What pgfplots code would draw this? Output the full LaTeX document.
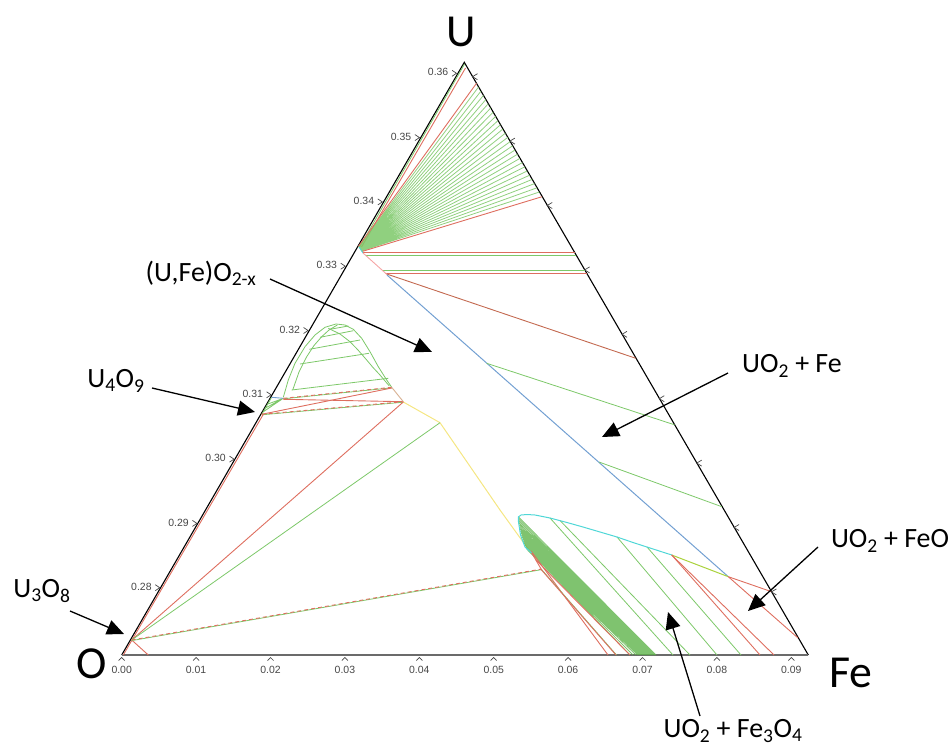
\documentclass[border=0pt]{standalone}
\usepackage{pgfplots}
\pgfplotsset{compat=1.18}
\usepackage{fontspec}
\setmainfont{Carlito}
\newfontfamily\tickfont{Liberation Sans}
\usetikzlibrary{arrows.meta}

\definecolor{cred}{RGB}{222,110,95}
\definecolor{cgreen}{RGB}{125,200,105}
\definecolor{cdgreen}{RGB}{95,180,75}
\definecolor{cblue}{RGB}{115,160,210}
\definecolor{ccyan}{RGB}{80,215,215}
\definecolor{cyellow}{RGB}{245,230,130}
\definecolor{cyg}{RGB}{170,210,60}
\definecolor{cbrown}{RGB}{195,105,80}
\definecolor{cpink}{RGB}{245,165,165}
\definecolor{ctan}{RGB}{215,175,145}
\definecolor{ctick}{RGB}{70,70,70}

\tikzset{
  rl/.style={color=cred, line width=0.9bp},
  gl/.style={color=cgreen, line width=0.8bp},
  rd/.style={color=cred, line width=0.9bp, dash pattern=on 4bp off 3bp},
  arr/.style={black, line width=1.3bp, -{Triangle[length=17bp,width=15bp]}},
  lab/.style={font=\fontsize{28}{32}\selectfont, inner sep=0pt},
  big/.style={font=\fontsize{46}{50}\selectfont, inner sep=0pt},
  tl/.style={font=\tickfont\fontsize{10.5}{12}\selectfont, text=ctick, inner sep=0pt},
}

\begin{document}
\begin{tikzpicture}
\begin{axis}[
  width=951bp, height=749bp, scale only axis,
  xmin=0, xmax=951, ymin=0, ymax=749, y dir=reverse,
  hide axis, clip=false, unbounded coords=jump,
]
% frame for the bounding box
\addplot[draw=none] coordinates {(0,0) (951,749)};

% triangle
\addplot[black, line width=1.1bp] coordinates {(121.7,655) (464.3,62.3) (808.3,655)};
\addplot[color=ctick!80, line width=2.4bp] coordinates {(121.7,655) (808.3,655)};

% ticks
\addplot[ctick, line width=0.7bp] coordinates {
 (118.7,660.5) (121.7,657.5) (124.7,660.5) (nan,nan)
 (193.1,660.5) (196.1,657.5) (199.1,660.5) (nan,nan)
 (267.5,660.5) (270.5,657.5) (273.5,660.5) (nan,nan)
 (341.9,660.5) (344.9,657.5) (347.9,660.5) (nan,nan)
 (416.3,660.5) (419.3,657.5) (422.3,660.5) (nan,nan)
 (490.7,660.5) (493.7,657.5) (496.7,660.5) (nan,nan)
 (565.1,660.5) (568.1,657.5) (571.1,660.5) (nan,nan)
 (639.5,660.5) (642.5,657.5) (645.5,660.5) (nan,nan)
 (713.9,660.5) (716.9,657.5) (719.9,660.5) (nan,nan)
 (788.3,660.5) (791.3,657.5) (794.3,660.5) (nan,nan)
 (155.3,584.7) (159.8,587.7) (155.3,590.7) (nan,nan)
 (192.4,520.4) (196.9,523.4) (192.4,526.4) (nan,nan)
 (229.5,456.1) (234.0,459.1) (229.5,462.1) (nan,nan)
 (266.6,391.8) (271.1,394.8) (266.6,397.8) (nan,nan)
 (303.6,327.5) (308.1,330.5) (303.6,333.5) (nan,nan)
 (340.7,263.2) (345.2,266.2) (340.7,269.2) (nan,nan)
 (377.8,198.9) (382.3,201.9) (377.8,204.9) (nan,nan)
 (414.9,134.6) (419.4,137.6) (414.9,140.6) (nan,nan)
 (452.0,70.3) (456.5,73.3) (452.0,76.3) (nan,nan)
 (477.5,73.7) (472.5,76.7) (477.5,79.7) (nan,nan)
 (514.9,138.1) (509.9,141.1) (514.9,144.1) (nan,nan)
 (552.2,202.5) (547.2,205.5) (552.2,208.5) (nan,nan)
 (589.6,266.9) (584.6,269.9) (589.6,272.9) (nan,nan)
 (627.0,331.3) (622.0,334.3) (627.0,337.3) (nan,nan)
 (664.3,395.7) (659.3,398.7) (664.3,401.7) (nan,nan)
 (701.7,460.1) (696.7,463.1) (701.7,466.1) (nan,nan)
 (739.0,524.5) (734.0,527.5) (739.0,530.5) (nan,nan)
 (776.4,588.9) (771.4,591.9) (776.4,594.9)
};

% tick labels
\foreach \xx/\lbl in {121.7/0.00,196.1/0.01,270.5/0.02,344.9/0.03,419.3/0.04,493.7/0.05,568.1/0.06,642.5/0.07,716.9/0.08,791.3/0.09}{
  \edef\temp{\noexpand\node[tl] at (axis cs:\xx,670) {\lbl};}\temp
}
\foreach \xx/\yy/\lbl in {151.8/586.7/0.28,188.9/522.4/0.29,226.0/458.1/0.30,263.1/393.8/0.31,300.1/329.5/0.32,337.2/265.2/0.33,374.3/200.9/0.34,411.4/136.6/0.35,448.5/72.3/0.36}{
  \edef\temp{\noexpand\node[tl, anchor=east] at (axis cs:\xx,\yy) {\lbl};}\temp
}

% --- upper fan (U-rich corner) ---
\addplot[gl] coordinates {(359.7,247) (464.6,64)};
\addplot[rl] coordinates {(361.5,247) (465.5,68)};
\addplot[gl, opacity=0.85] coordinates {
 (358.8,246.6) (478.5,87.0) (nan,nan)
 (358.9,246.8) (480.9,91.2) (nan,nan)
 (359.0,246.9) (483.4,95.4) (nan,nan)
 (359.1,247.1) (485.8,99.6) (nan,nan)
 (359.2,247.3) (488.2,103.8) (nan,nan)
 (359.4,247.5) (490.7,108.0) (nan,nan)
 (359.5,247.7) (493.1,112.2) (nan,nan)
 (359.6,247.8) (495.6,116.4) (nan,nan)
 (359.7,248.0) (498.0,120.6) (nan,nan)
 (359.8,248.2) (500.4,124.8) (nan,nan)
 (359.9,248.4) (502.9,129.0) (nan,nan)
 (360.0,248.5) (505.3,133.2) (nan,nan)
 (360.1,248.7) (507.7,137.4) (nan,nan)
 (360.3,248.9) (510.2,141.6) (nan,nan)
 (360.4,249.1) (512.6,145.8) (nan,nan)
 (360.5,249.2) (515.0,150.0) (nan,nan)
 (360.6,249.4) (517.5,154.2) (nan,nan)
 (360.7,249.6) (519.9,158.4) (nan,nan)
 (360.8,249.8) (522.4,162.6) (nan,nan)
 (360.9,249.9) (524.8,166.8) (nan,nan)
 (361.0,250.1) (527.2,171.0) (nan,nan)
 (361.2,250.3) (529.7,175.2) (nan,nan)
 (361.3,250.5) (532.1,179.4) (nan,nan)
 (361.4,250.6) (534.5,183.6) (nan,nan)
 (361.5,250.8) (537.0,187.8) (nan,nan)
 (361.6,251.0) (539.4,192.0)
};
\addplot[rl] coordinates {(358.5,246.3) (476.5,83.3)};
\addplot[rl] coordinates {(362,251.5) (542,196.7)};
\addplot[ccyan, line width=0.9bp] coordinates {(359,247) (363,253)};

% horizontal tie lines
\addplot[gl] coordinates {(366,255) (576.1,255)};
\addplot[rl] coordinates {(363,252.5) (574.7,252.5)};
\addplot[gl] coordinates {(383.3,270.6) (585,270.6)};
\addplot[rl] coordinates {(385,273.5) (586.7,273.5)};
\addplot[cpink, line width=0.9bp] coordinates {(363,253) (387,274.5)};

% UO2 + Fe region
\addplot[cbrown, line width=0.9bp] coordinates {(386.7,274) (635.8,358.3)};
\addplot[cblue, line width=1bp] coordinates {(387,275) (728.3,576.7)};
\addplot[gl] coordinates {(486.7,363.3) (674.5,424.8)};
\addplot[gl] coordinates {(599,462) (721.8,506.7)};

% --- U4O9 dome ---
\addplot[gl] coordinates {(283.3,397.3) (288.3,380) (295,363.3) (305,346.7) (315,335) (325,327.3) (336,324) (345,325) (353.3,329.3) (361.7,338.3) (370,351.7) (378.3,366.7) (386.7,380) (391.7,387.3)};
\addplot[gl] coordinates {(292.7,390) (299,372) (306.7,356.7) (314,345.5) (321.7,336.7) (329,330) (337.3,325)};
\addplot[gl] coordinates {(328.3,328.3) (340,334) (350,341.7) (358,350) (366.7,360) (373,367.5) (380,375) (389.3,386)};
\addplot[gl] coordinates {
 (291.7,390) (388.3,378.3) (nan,nan)
 (300,364) (369,353.3) (nan,nan)
 (309.3,349.3) (360,340) (nan,nan)
 (320,337.3) (353.3,330.7) (nan,nan)
 (330,329.3) (348.3,326) (nan,nan)
 (263,412) (283.3,398.3) (nan,nan)
 (265.5,408) (283.3,398.3) (nan,nan)
 (268,404) (283.3,398.3) (nan,nan)
 (262,414) (271.5,397.5)
};
\addplot[cblue, line width=0.9bp] coordinates {(271.7,397.3) (283.3,398.3)};
\addplot[gl] coordinates {(283.3,398.8) (391.7,387.8)};
\addplot[rd] coordinates {(283.3,398.3) (391.7,387.3)};
\addplot[rl] coordinates {(261.7,414.3) (391.7,388)};
\addplot[rl] coordinates {(283.3,399.3) (403.3,401.7)};
\addplot[gl] coordinates {(261.7,414.8) (403.3,402.2)};
\addplot[rd] coordinates {(261.7,414.3) (403.3,401.7)};
\addplot[ctan, line width=0.9bp] coordinates {(391.7,387.3) (403.3,401.7)};
\addplot[cyellow, line width=1bp] coordinates {(403.3,402) (440,422.7) (500,510) (531,553)};

% --- U3O8 corner ---
\addplot[rl] coordinates {(123.3,655) (263.2,414.5)};
\addplot[rl] coordinates {(131.7,640) (148.3,655)};
\addplot[rl] coordinates {(131.7,640) (403.3,402)};
\addplot[gl] coordinates {(131.7,640) (440,422.7)};
\addplot[gl] coordinates {(131.7,640.6) (541.7,569.6)};
\addplot[rd] coordinates {(131.7,640) (541.7,569)};

% --- lower lens (UO2 + Fe3O4) ---
\addplot[color=cdgreen, line width=0.8bp, opacity=0.8] coordinates {
 (518.5,517) (656,655) (nan,nan)
 (518.6,519) (655,655) (nan,nan)
 (518.8,521) (654,655) (nan,nan)
 (519.0,523) (653,655) (nan,nan)
 (519.3,525) (652,655) (nan,nan)
 (519.6,527) (651,655) (nan,nan)
 (520.0,529) (650,655) (nan,nan)
 (520.4,531) (649,655) (nan,nan)
 (520.9,533) (648,655) (nan,nan)
 (521.4,535) (647,655) (nan,nan)
 (522.0,537) (646,655) (nan,nan)
 (522.6,539) (645,655) (nan,nan)
 (523.3,541) (644,655) (nan,nan)
 (524.0,543) (642.5,655) (nan,nan)
 (524.8,545) (641,655) (nan,nan)
 (525.7,547) (639.5,655) (nan,nan)
 (526.7,549) (638,655) (nan,nan)
 (527.8,550.5) (636,655) (nan,nan)
 (529.0,551.5) (633,655) (nan,nan)
 (530.5,552.5) (630,655)
};
\addplot[gl] coordinates {
 (550,518) (673,655) (nan,nan)
 (560,520.5) (690,655) (nan,nan)
 (617,537) (717,655) (nan,nan)
 (647,547) (741,655)
};
\addplot[rl] coordinates {(531,551) (608,655)};
\addplot[rl] coordinates {(536,560) (630,655)};
\addplot[gl] coordinates {(541.7,569.6) (616.5,655)};
\addplot[rl] coordinates {(541.2,569.6) (616,655)};
\addplot[ccyan, line width=1bp] coordinates {(531.7,553) (525,547) (520.5,535) (518.5,522) (518.3,517) (521,515) (527,514.5) (535,515) (550,518) (567,522.5) (583,527) (600,532) (617,537) (633,542.5) (650,548) (667,553.5) (672,555)};
\addplot[rl] coordinates {(531.7,553) (541.7,570)};
\addplot[cyg, line width=1bp] coordinates {(671.7,555) (728.3,576.7)};
\addplot[rl] coordinates {(671.7,555) (760,655)};
\addplot[rl] coordinates {(671.7,555) (774,655)};
\addplot[rl] coordinates {(728.3,576.7) (771,591.5)};
\addplot[rl] coordinates {(728.3,576.7) (798,638)};

% arrows
\draw[arr] (axis cs:270,279) -- (axis cs:432,352);
\draw[arr] (axis cs:152,388) -- (axis cs:255,412);
\draw[arr] (axis cs:70,611) -- (axis cs:124,634);
\draw[arr] (axis cs:728,373) -- (axis cs:602,437);
\draw[arr] (axis cs:818,547) -- (axis cs:748,611);
\draw[arr] (axis cs:700,716) -- (axis cs:668,612);

% labels
\node[big] at (axis cs:461,32) {U};
\node[big] at (axis cs:92,664) {O};
\node[big] at (axis cs:851,673) {Fe};
\node[lab] at (axis cs:201,273) {(U,Fe)O\textsubscript{2-x}};
\node[lab] at (axis cs:116,381) {U\textsubscript{4}O\textsubscript{9}};
\node[lab] at (axis cs:42,591) {U\textsubscript{3}O\textsubscript{8}};
\node[lab] at (axis cs:792,366) {UO\textsubscript{2} + Fe};
\node[lab] at (axis cs:890,541) {UO\textsubscript{2} + FeO};
\node[lab] at (axis cs:733,731) {UO\textsubscript{2} + Fe\textsubscript{3}O\textsubscript{4}};
\end{axis}
\end{tikzpicture}
\end{document}
